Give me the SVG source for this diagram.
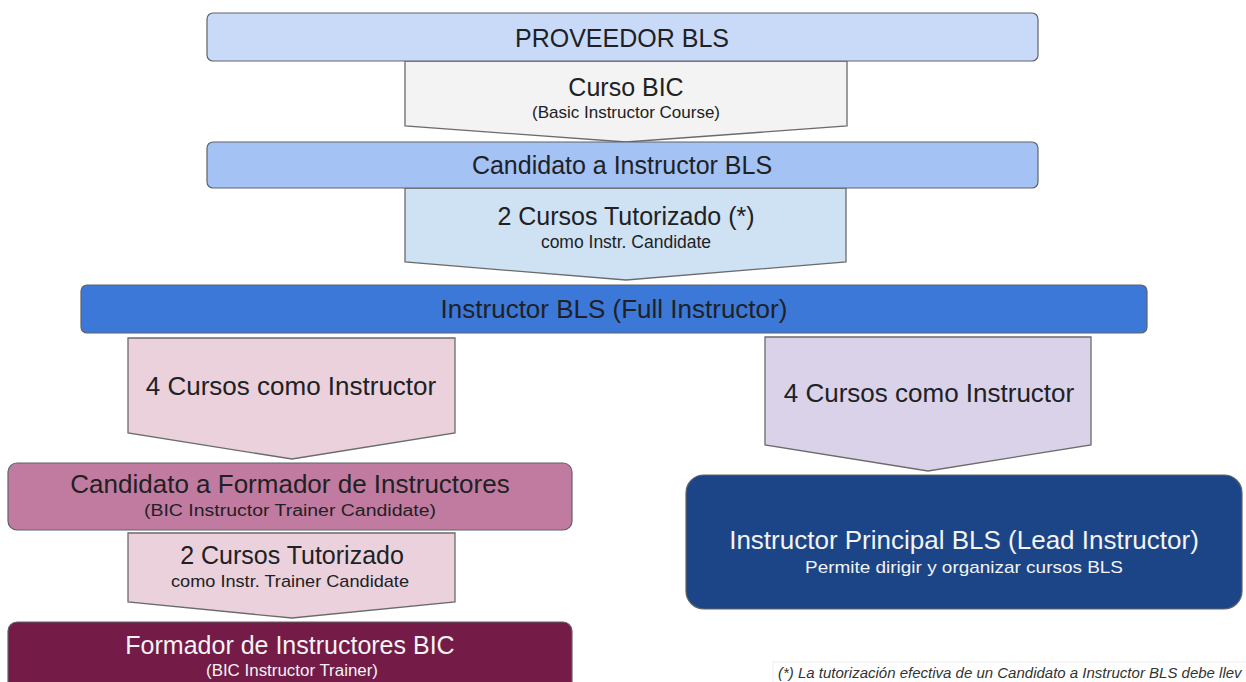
<svg xmlns="http://www.w3.org/2000/svg" width="1246" height="682" viewBox="0 0 1246 682">
<style>
.box{stroke:#5f6368;stroke-width:1.2}
.arr{stroke:#6b6b6b;stroke-width:1.3}
text{font-family:"Liberation Sans",Arial,sans-serif;text-anchor:middle}
.big{font-size:25px;fill:#202124}
.big26{font-size:26px;fill:#202124}
.sub{font-size:17px;fill:#202124}
.lt{fill:#f3f3f3}
</style>
<rect width="1246" height="682" fill="#ffffff"/>
<g id="connectors">
<g id="curso-bic">
<polygon class="arr" points="405,61 847,61 847,126 626,142 405,126" fill="#f3f3f3"/>
<text class="big" x="626" y="96">Curso BIC</text>
<text class="sub" x="626" y="118">(Basic Instructor Course)</text>
</g>
<g id="tutorizado-1">
<polygon class="arr" points="405,188 846,188 846,262 626,280 405,262" fill="#cfe2f3"/>
<text class="big" x="626" y="225">2 Cursos Tutorizado (*)</text>
<text class="sub" x="626" y="248" style="font-size:17.5px">como Instr. Candidate</text>
</g>
<g id="cursos-left">
<polygon class="arr" points="128,338 455,338 455,433 292,459 128,433" fill="#ead1dc"/>
<text class="big26" x="291" y="395">4 Cursos como Instructor</text>
</g>
<g id="cursos-right">
<polygon class="arr" points="765,337 1091,337 1091,445 928,471 765,445" fill="#d9d2e9"/>
<text class="big26" x="929" y="402">4 Cursos como Instructor</text>
</g>
<g id="tutorizado-2">
<polygon class="arr" points="128,533 455,533 455,602 292,618 128,602" fill="#ead1dc"/>
<text class="big" x="292" y="564">2 Cursos Tutorizado</text>
<text class="sub" x="290" y="587" style="font-size:17px" textLength="238" lengthAdjust="spacingAndGlyphs">como Instr. Trainer Candidate</text>
</g>
</g>
<g id="proveedor">
<rect class="box" x="207" y="13" width="831" height="48" rx="6" fill="#c9daf8"/>
<text class="big" x="622" y="47">PROVEEDOR BLS</text>
</g>
<g id="candidato-instructor">
<rect class="box" x="207" y="142" width="831" height="46" rx="6" fill="#a4c2f4"/>
<text class="big" x="622" y="174">Candidato a Instructor BLS</text>
</g>
<g id="instructor-bls">
<rect class="box" x="81" y="285" width="1066" height="48" rx="6" fill="#3c78d8"/>
<text class="big26" x="614" y="318">Instructor BLS (Full Instructor)</text>
</g>
<g id="candidato-formador">
<rect class="box" x="8" y="463" width="564" height="67" rx="9" fill="#c27ba0"/>
<text class="big26" x="290" y="493">Candidato a Formador de Instructores</text>
<text class="sub" x="290" y="516" style="font-size:16px" textLength="292" lengthAdjust="spacingAndGlyphs">(BIC Instructor Trainer Candidate)</text>
</g>
<g id="formador-bic">
<rect class="box" x="8" y="622" width="564" height="80" rx="9" fill="#741b47"/>
<text class="big lt" x="290" y="654">Formador de Instructores BIC</text>
<text class="sub lt" x="292" y="676" style="font-size:16px" textLength="172" lengthAdjust="spacingAndGlyphs">(BIC Instructor Trainer)</text>
</g>
<g id="instructor-principal">
<rect class="box" x="686" y="475" width="556" height="134" rx="18" fill="#1c4587"/>
<text class="big26 lt" x="964" y="549">Instructor Principal BLS (Lead Instructor)</text>
<text class="sub lt" x="964" y="573" style="font-size:17px" textLength="318" lengthAdjust="spacingAndGlyphs">Permite dirigir y organizar cursos BLS</text>
</g>
<g id="footnote">
<rect x="773" y="662" width="480" height="30" fill="#ffffff" stroke="#eeeeee" stroke-width="1"/>
<text x="778" y="678" style="text-anchor:start;font-size:15px;font-style:italic;fill:#333333">(*) La tutorización efectiva de un Candidato a Instructor BLS debe llev</text>
</g>
</svg>
